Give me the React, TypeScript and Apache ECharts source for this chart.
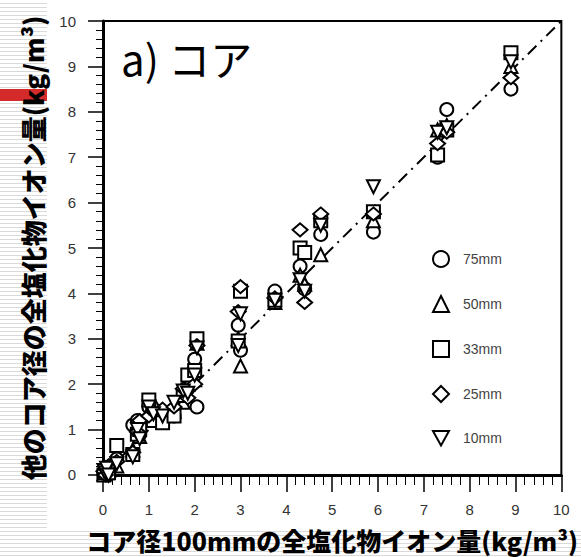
import React, { useEffect, useRef } from "react";
import * as echarts from "echarts";

// Core 100mm chloride content (x) shared by all series
const xCore100 = [0.02, 0.05, 0.08, 0.12, 0.3, 0.65, 0.75, 0.8, 1.0, 1.1, 1.3, 1.55, 1.75, 1.85, 2.0, 2.05, 2.95, 3.0, 3.75, 4.3, 4.4, 4.75, 5.9, 7.3, 7.5, 8.9];

const y75 = [0.05, 0.1, 0.0, 0.15, 0.35, 1.1, 1.2, 0.9, 1.5, 1.45, 1.35, 1.3, 1.7, 1.9, 2.55, 1.5, 3.3, 2.75, 4.05, 4.6, 4.1, 5.3, 5.35, 7.0, 8.05, 8.5];
const y50 = [0.02, 0.15, 0.05, 0.1, 0.2, 0.55, 1.1, 0.85, 1.4, 1.6, 1.3, 1.4, 1.6, 2.0, 2.1, 2.9, 3.0, 2.4, 3.8, 4.4, 4.2, 4.85, 5.6, 7.6, 7.7, 9.0];
const y33 = [0.0, 0.05, 0.1, 0.05, 0.65, 0.45, 0.9, 1.0, 1.65, 1.2, 1.15, 1.3, 1.75, 2.2, 2.3, 3.0, 2.95, 4.05, 3.85, 5.0, 4.9, 5.6, 5.8, 7.05, 7.6, 9.3];
const y25 = [0.08, 0.0, 0.12, 0.2, 0.3, 0.5, 0.95, 1.2, 1.3, 1.4, 1.45, 1.5, 1.9, 1.7, 2.0, 2.85, 3.6, 4.15, 3.9, 5.4, 3.8, 5.75, 5.75, 7.3, 7.55, 8.75];
const y10 = [0.1, 0.05, 0.15, 0.0, 0.25, 0.4, 1.0, 0.8, 1.5, 1.35, 1.3, 1.6, 1.85, 1.8, 2.2, 2.8, 2.85, 3.55, 3.85, 4.3, 4.05, 5.5, 6.35, 7.55, 7.65, 9.1];

const seriesNames = ["75mm", "50mm", "33mm", "25mm", "10mm"];
const seriesValues = [y75, y50, y33, y25, y10];
const xTicks = [0, 1, 2, 3, 4, 5, 6, 7, 8, 9, 10];
const refLine = [[0, 0], [10, 10]];

const symbolFor = (i: number) =>
  ["circle", "triangle", "rect", "path://M5,0 L10,5 L5,10 L0,5 Z", "path://M0,0 L10,0 L5,9 Z"][i];

export default function App() {
  const ref = useRef<HTMLDivElement>(null);
  useEffect(() => {
    document.body.style.margin = "0";
    if (!ref.current) return;
    const chart = echarts.init(ref.current, undefined, { renderer: "svg" });
    const scatter = seriesNames.map((name, i) => ({
      name,
      type: "scatter",
      symbol: symbolFor(i),
      symbolSize: i === 3 ? [15, 13] : 13,
      data: xCore100.map((x, k) => [x, seriesValues[i][k]]),
      itemStyle: { color: "#fff", borderColor: "#000", borderWidth: 2, opacity: 1 },
      z: 3,
    }));
    chart.setOption({
      animation: false,
      backgroundColor: "transparent",
      grid: {
        left: 103,
        top: 21,
        width: 461,
        height: 457,
        show: true,
        borderColor: "#000",
        borderWidth: 2,
        backgroundColor: "transparent",
      },
      xAxis: {
        type: "value",
        min: xTicks[0],
        max: xTicks[xTicks.length - 1],
        interval: 1,
        name: "コア径100mmの全塩化物イオン量(kg/m³)",
        nameLocation: "middle",
        nameGap: 52,
        nameTextStyle: { fontFamily: "Noto Sans CJK JP", fontWeight: 900, fontSize: 25, color: "#000" },
        axisLine: { lineStyle: { color: "#000", width: 3 } },
        axisTick: { length: 17, lineStyle: { color: "#000", width: 1.5 } },
        minorTick: { show: true, splitNumber: 5, length: 10, lineStyle: { color: "#000", width: 1 } },
        splitLine: { show: false },
        axisLabel: { fontFamily: "Liberation Sans", fontSize: 15, color: "#333", margin: 27 },
      },
      yAxis: {
        type: "value",
        min: 0,
        max: 10,
        interval: 1,
        name: "他のコア径の全塩化物イオン量(kg/m³)",
        nameLocation: "middle",
        nameRotate: 90,
        nameGap: 58,
        nameTextStyle: { fontFamily: "Noto Sans CJK JP", fontWeight: 900, fontSize: 26, color: "#000" },
        axisLine: { lineStyle: { color: "#000", width: 3 } },
        axisTick: { length: 15, lineStyle: { color: "#000", width: 1.5 } },
        minorTick: { show: true, splitNumber: 5, length: 7, lineStyle: { color: "#000", width: 1 } },
        splitLine: { show: false },
        axisLabel: { fontFamily: "Liberation Sans", fontSize: 15, color: "#333", margin: 27 },
      },
      legend: {
        data: seriesNames,
        orient: "vertical",
        left: 427,
        top: 245,
        itemWidth: 16,
        itemHeight: 16,
        itemGap: 27,
        textStyle: { fontFamily: "Liberation Sans", fontSize: 14, color: "#444", padding: [0, 0, 0, 9] },
      },
      graphic: [
        {
          type: "text",
          left: 121,
          top: 36,
          style: { text: "a) コア", font: "400 42px 'Noto Sans CJK JP'", fill: "#000" },
        },
      ],
      series: [
        {
          name: "ref",
          type: "line",
          data: refLine,
          showSymbol: false,
          symbol: "none",
          lineStyle: { color: "#000", width: 2, type: [12, 6, 2, 6] },
          z: 2,
        },
        ...scatter,
      ],
    });
    return () => chart.dispose();
  }, []);
  return (
    <div
      style={{
        position: "relative",
        width: 581,
        height: 557,
        background: "repeating-linear-gradient(to bottom, #ffffff 0px, #ffffff 3px, #d9d9d9 3px, #d9d9d9 4px)",
        overflow: "hidden",
      }}
    >
      <div style={{ position: "absolute", left: 47, top: 0, width: 534, height: 530, background: "#fff" }} />
      <div style={{ position: "absolute", left: 0, top: 89, width: 47, height: 12, background: "#d42a2a" }} />
      <div ref={ref} style={{ position: "absolute", left: 0, top: 0, width: 581, height: 557 }} />
    </div>
  );
}
